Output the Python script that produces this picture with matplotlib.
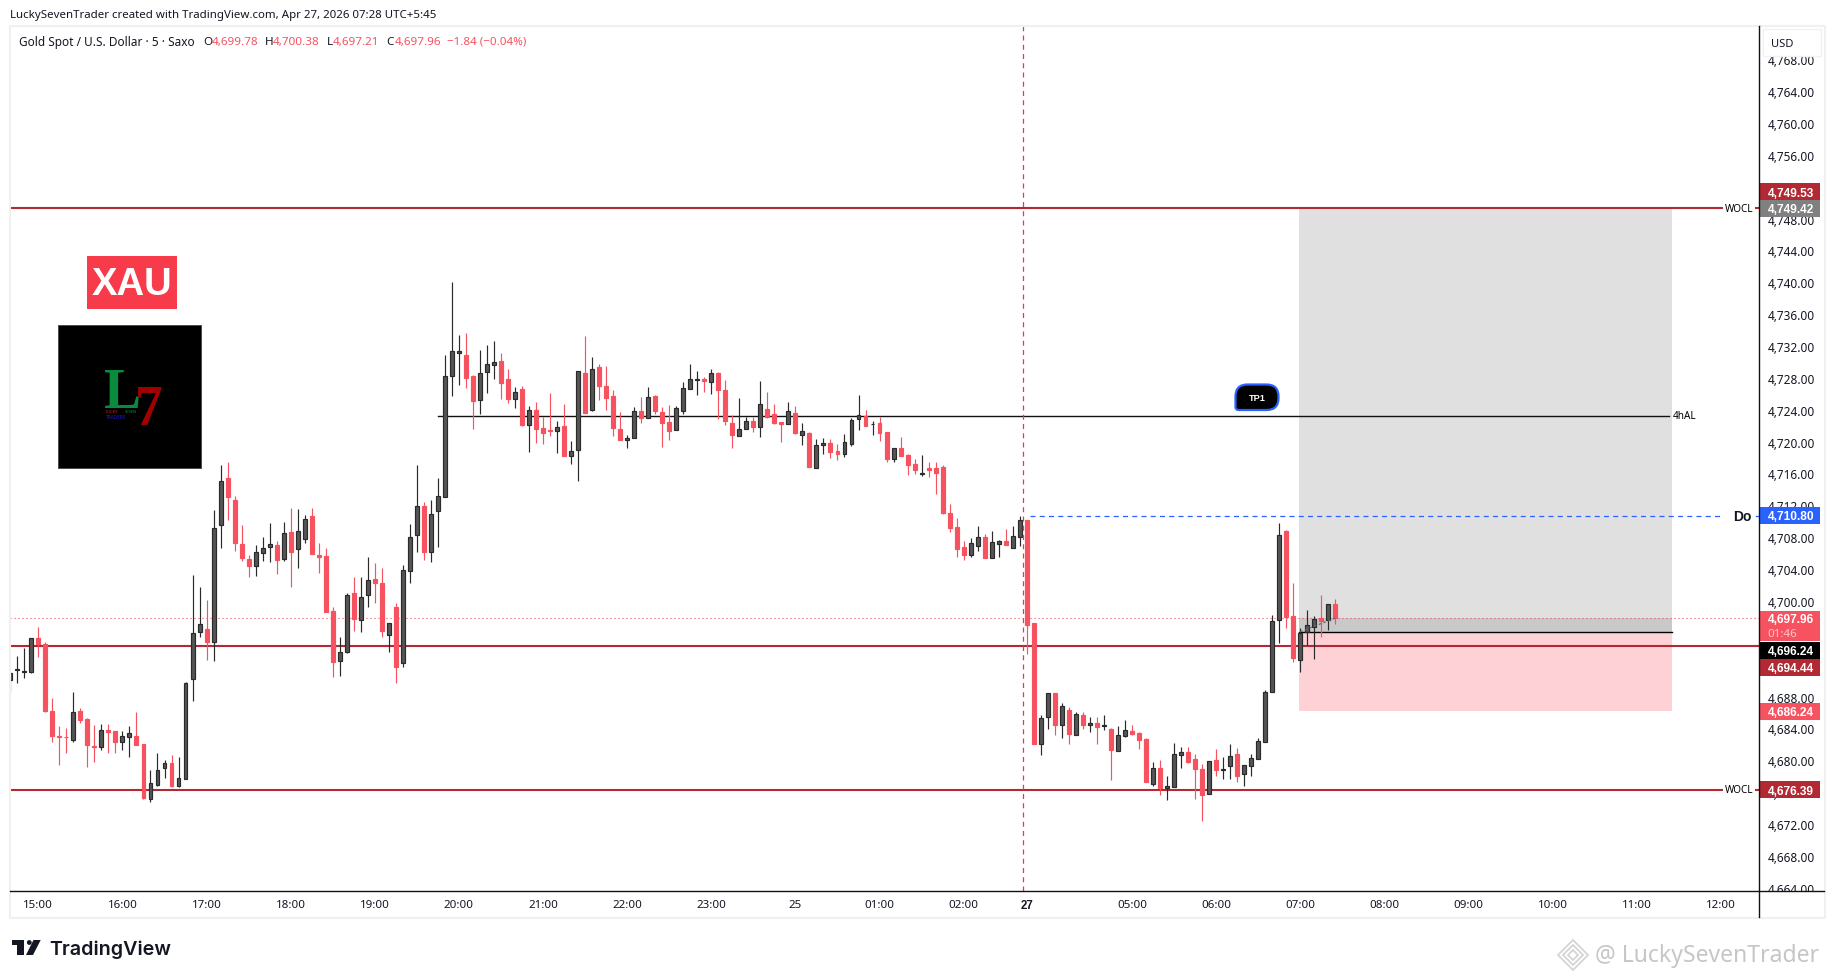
import numpy as np
import matplotlib
matplotlib.use('Agg')
import matplotlib.pyplot as plt
from matplotlib.patches import Rectangle, PathPatch, Polygon, Circle
from matplotlib.path import Path

plt.rcParams['font.family'] = ['Noto Sans', 'DejaVu Sans']

# 5 min candles, first one is 4 bars before the 15:00 bar
opens = [
    4690.24, 4691.4, 4691.2, 4691.23, 4695.49, 4694.73, 4686.3, 4683.11, 4683.07, 4682.71,
    4686.3, 4685.31, 4681.9, 4681.81, 4683.92, 4683.79, 4682.35, 4683.07, 4683.16, 4682.17,
    4675.22, 4676.97, 4679.12, 4679.8, 4676.93, 4677.73, 4690.29, 4696.25, 4696.61, 4695.0,
    4709.61, 4715.58, 4712.8, 4707.28, 4705.4, 4704.46, 4706.07, 4706.83, 4707.15, 4705.35,
    4708.76, 4706.61, 4707.87, 4710.78, 4705.89, 4705.76, 4698.85, 4692.53, 4693.74, 4701.14,
    4697.69, 4700.83, 4702.89, 4702.4, 4695.8, 4699.35, 4692.31, 4703.83, 4708.36, 4712.04,
    4706.25, 4711.36, 4713.16, 4728.31, 4731.29, 4731.0, 4728.36, 4725.39, 4728.82, 4729.78,
    4730.24, 4727.94, 4725.52, 4726.73, 4722.25, 4724.09, 4721.83, 4721.58, 4721.5, 4722.08,
    4718.36, 4719.03, 4728.74, 4724.13, 4729.49, 4727.11, 4725.85, 4721.71, 4720.37, 4720.5,
    4723.97, 4723.13, 4725.85, 4723.84, 4722.59, 4721.62, 4724.01, 4726.77, 4727.9, 4727.98,
    4727.65, 4728.74, 4726.6, 4722.46, 4720.87, 4721.75, 4722.71, 4722.0, 4724.22, 4723.59,
    4722.59, 4722.38, 4723.72, 4721.0, 4721.21, 4716.85, 4719.66, 4719.95, 4718.95, 4718.61,
    4719.83, 4722.92, 4723.34, 4722.29, 4722.46, 4721.33, 4717.98, 4719.32, 4718.44, 4717.31,
    4716.06, 4716.81, 4716.81, 4716.94, 4711.16, 4709.4, 4706.9, 4705.89, 4707.06, 4708.15,
    4705.51, 4707.31, 4707.65, 4706.81, 4708.19, 4710.28, 4697.35, 4682.2, 4685.59, 4688.56,
    4684.59, 4686.43, 4683.33, 4685.8, 4684.59, 4684.8, 4684.46, 4684.05, 4681.33, 4683.21,
    4683.79, 4683.54, 4682.79, 4677.18, 4679.15, 4676.68, 4676.81, 4680.82, 4681.16, 4680.28,
    4679.03, 4675.84, 4680.15, 4678.94, 4679.44, 4680.91, 4678.44, 4679.44, 4680.32, 4682.46,
    4688.73, 4697.69, 4708.9, 4698.23, 4692.75, 4696.18, 4696.81, 4697.98, 4697.69, 4699.78,
]
highs = [
    4691.05, 4693.25, 4694.14, 4695.44, 4696.83, 4694.95, 4687.96, 4684.41, 4684.19, 4688.67,
    4686.7, 4685.45, 4684.55, 4684.64, 4684.64, 4683.79, 4683.79, 4684.41, 4686.16, 4682.17,
    4678.9, 4681.05, 4680.15, 4680.78, 4680.51, 4689.93, 4703.38, 4701.86, 4700.24, 4711.54,
    4717.19, 4717.55, 4713.29, 4709.66, 4705.89, 4707.15, 4708.13, 4709.93, 4707.64, 4710.02,
    4711.81, 4711.68, 4710.91, 4711.81, 4707.42, 4706.79, 4699.35, 4695.58, 4701.14, 4703.11,
    4703.11, 4705.62, 4704.91, 4704.28, 4697.33, 4699.88, 4704.64, 4709.79, 4717.19, 4712.53,
    4712.8, 4715.58, 4731.0, 4740.15, 4733.5, 4733.76, 4728.49, 4731.62, 4732.25, 4732.75,
    4731.25, 4729.2, 4726.98, 4727.11, 4724.6, 4725.1, 4723.26, 4726.23, 4722.71, 4724.85,
    4720.2, 4728.95, 4733.38, 4730.75, 4729.87, 4729.66, 4726.6, 4723.84, 4720.91, 4724.43,
    4725.73, 4726.98, 4725.98, 4724.47, 4724.76, 4724.6, 4727.61, 4729.87, 4728.99, 4728.24,
    4729.2, 4728.86, 4727.86, 4723.47, 4725.6, 4723.26, 4723.26, 4727.73, 4726.35, 4724.85,
    4722.59, 4725.1, 4724.6, 4722.46, 4721.33, 4720.45, 4720.58, 4720.45, 4719.83, 4721.08,
    4723.09, 4725.98, 4724.09, 4722.67, 4723.22, 4721.33, 4719.32, 4720.7, 4718.57, 4717.94,
    4718.44, 4717.56, 4717.56, 4717.19, 4712.29, 4710.53, 4707.65, 4708.02, 4709.53, 4708.53,
    4708.9, 4707.77, 4709.15, 4709.53, 4710.79, 4710.28, 4697.35, 4685.8, 4688.52, 4688.56,
    4687.27, 4686.81, 4686.18, 4686.18, 4685.55, 4685.55, 4685.8, 4684.17, 4684.42, 4685.18,
    4684.55, 4683.67, 4682.92, 4679.9, 4680.15, 4678.15, 4682.29, 4681.79, 4681.79, 4680.91,
    4679.65, 4680.03, 4681.54, 4680.53, 4682.16, 4681.66, 4679.49, 4680.91, 4682.87, 4688.94,
    4698.36, 4709.9, 4709.02, 4702.37, 4696.72, 4698.98, 4698.23, 4700.87, 4699.69, 4700.38,
]
lows = [
    4688.67, 4689.75, 4690.38, 4691.0, 4693.02, 4686.21, 4682.4, 4679.57, 4681.05, 4682.35,
    4684.73, 4679.3, 4679.93, 4681.45, 4681.05, 4681.05, 4681.45, 4680.51, 4682.08, 4675.22,
    4674.82, 4676.93, 4677.82, 4676.7, 4676.7, 4677.73, 4687.6, 4695.62, 4692.71, 4692.62,
    4706.7, 4710.33, 4706.39, 4705.18, 4703.16, 4703.29, 4705.18, 4705.0, 4703.43, 4705.18,
    4701.81, 4704.19, 4707.33, 4705.94, 4703.56, 4698.76, 4690.51, 4690.74, 4693.52, 4696.34,
    4696.25, 4699.39, 4699.88, 4695.62, 4693.74, 4689.75, 4691.77, 4702.31, 4706.3, 4705.31,
    4704.95, 4706.92, 4713.16, 4725.89, 4727.27, 4726.9, 4721.75, 4723.63, 4726.27, 4727.98,
    4725.52, 4725.01, 4724.34, 4722.13, 4718.82, 4719.95, 4719.83, 4720.87, 4718.7, 4718.24,
    4717.32, 4715.18, 4723.72, 4723.97, 4725.35, 4724.09, 4720.83, 4720.33, 4719.32, 4720.5,
    4722.46, 4723.13, 4723.59, 4719.45, 4720.33, 4721.62, 4723.59, 4726.77, 4725.98, 4726.35,
    4726.1, 4722.96, 4722.21, 4719.32, 4720.87, 4721.75, 4721.33, 4720.7, 4723.09, 4722.34,
    4720.08, 4722.38, 4721.08, 4719.7, 4716.94, 4716.85, 4718.57, 4718.07, 4717.82, 4718.19,
    4719.58, 4721.58, 4722.13, 4720.96, 4720.2, 4717.6, 4717.6, 4718.32, 4715.93, 4716.06,
    4715.81, 4715.68, 4713.55, 4711.04, 4708.78, 4705.64, 4705.26, 4705.64, 4706.39, 4705.51,
    4705.51, 4705.64, 4707.15, 4706.81, 4707.02, 4693.46, 4682.16, 4680.78, 4684.09, 4683.29,
    4682.92, 4682.16, 4683.33, 4684.09, 4683.67, 4682.16, 4683.92, 4677.64, 4681.33, 4683.04,
    4683.29, 4681.54, 4677.39, 4676.89, 4675.76, 4675.13, 4676.81, 4679.15, 4679.78, 4675.26,
    4672.5, 4675.84, 4678.15, 4677.77, 4677.77, 4677.39, 4676.89, 4678.15, 4680.32, 4682.46,
    4688.73, 4694.84, 4696.72, 4692.46, 4691.2, 4694.59, 4692.83, 4695.6, 4696.47, 4697.21,
]
closes = [
    4691.05, 4691.54, 4691.3, 4695.44, 4694.73, 4686.3, 4683.2, 4682.98, 4682.98, 4686.12,
    4685.22, 4682.08, 4681.81, 4683.88, 4683.61, 4682.4, 4683.11, 4683.52, 4682.08, 4675.31,
    4677.24, 4678.85, 4679.75, 4676.88, 4677.87, 4689.8, 4696.07, 4697.19, 4694.91, 4709.26,
    4715.13, 4713.11, 4707.33, 4705.44, 4704.5, 4706.21, 4706.74, 4707.24, 4705.31, 4708.63,
    4706.3, 4708.85, 4710.38, 4705.94, 4705.67, 4698.76, 4692.49, 4693.65, 4700.83, 4697.78,
    4700.56, 4702.71, 4702.31, 4696.34, 4697.28, 4691.86, 4703.96, 4708.09, 4711.99, 4706.25,
    4711.0, 4713.25, 4728.31, 4731.45, 4731.46, 4728.15, 4725.22, 4728.7, 4729.83, 4730.08,
    4727.52, 4725.52, 4726.31, 4722.21, 4724.05, 4721.75, 4721.25, 4721.5, 4721.92, 4718.24,
    4718.9, 4728.95, 4723.72, 4729.2, 4727.15, 4725.6, 4721.87, 4720.33, 4720.54, 4723.93,
    4723.13, 4725.68, 4723.97, 4722.46, 4721.46, 4724.3, 4726.81, 4727.94, 4727.94, 4727.73,
    4728.7, 4726.6, 4722.71, 4720.96, 4721.67, 4722.67, 4721.96, 4724.8, 4723.21, 4722.46,
    4722.34, 4723.93, 4721.21, 4721.42, 4716.94, 4719.66, 4719.91, 4718.82, 4718.57, 4720.03,
    4722.8, 4723.47, 4722.13, 4722.34, 4721.25, 4717.98, 4719.32, 4718.32, 4717.19, 4716.56,
    4716.14, 4716.56, 4716.18, 4711.16, 4709.28, 4706.64, 4705.89, 4707.35, 4708.11, 4705.51,
    4707.48, 4707.61, 4707.15, 4708.23, 4710.24, 4697.1, 4682.16, 4685.38, 4688.52, 4684.59,
    4686.89, 4683.46, 4685.89, 4684.59, 4684.76, 4684.3, 4684.55, 4681.41, 4683.25, 4683.88,
    4683.42, 4682.67, 4677.39, 4679.11, 4676.64, 4676.85, 4680.87, 4681.12, 4679.9, 4679.03,
    4675.76, 4679.99, 4678.9, 4679.03, 4680.62, 4678.15, 4679.49, 4680.36, 4682.5, 4688.69,
    4697.56, 4708.36, 4698.1, 4692.96, 4696.05, 4697.06, 4697.81, 4697.64, 4699.69, 4697.96,
]
first_bar = -4

time_ticks = [0, 12, 24, 36, 48, 60, 72, 84, 96, 108, 120, 132, 141, 156, 168, 180, 192, 204, 216, 228, 240]
time_labels = ['15:00', '16:00', '17:00', '18:00', '19:00', '20:00', '21:00', '22:00', '23:00', '25',
               '01:00', '02:00', '27', '05:00', '06:00', '07:00', '08:00', '09:00', '10:00', '11:00', '12:00']
price_ticks = list(range(4664, 4772, 4))

wocl_top = 4749.42
wocl_bottom = 4676.39
mid_level = 4694.44
al_level = 4723.3
do_level = 4710.80
last_price = 4697.96
entry_price = 4696.24
stop_price = 4686.24

# price scale tags: text, where the tag sits, colour
tag_texts = ['4,749.53', '4,749.42', '4,710.80', '4,696.24', '4,694.44', '4,686.24', '4,676.39']
tag_prices = [4751.45, 4749.42, 4710.80, 4693.89, 4691.78, 4686.24, 4676.39]
tag_colors = ['#b22833', '#808080', '#2962ff', '#000000', '#b22833', '#f7525f', '#b22833']

RED = '#f7525f'
DARK = '#555555'
DARK_EDGE = '#2a2a2a'
LINE_RED = '#b22833'
TEXT = '#131722'
BOLD = 'Liberation Sans'

W, H = 1835, 979
fig = plt.figure(figsize=(W / 100, H / 100), dpi=100, facecolor='white')


def px_axes(x0, y0, x1, y1):
    return fig.add_axes([x0 / W, 1 - y1 / H, (x1 - x0) / W, (y1 - y0) / H])


ax = px_axes(10, 27, 1759.3, 891.5)
ax.set_xlim(-4.04, 245.5)
ax.set_ylim(4663.76, 4772.28)
for s in ax.spines.values():
    s.set_visible(False)
ax.set_yticks([])
ax.set_xticks(time_ticks)
ax.set_xticklabels(time_labels, fontsize=8.3, color=TEXT)
ax.tick_params(axis='x', length=0, pad=6)
ax.get_xticklabels()[12].set_fontweight('bold')
ax.get_xticklabels()[12].set_fontfamily(BOLD)

# position tool
ax.add_patch(Rectangle((179.9, entry_price), 53.2, wocl_top - entry_price, fc='#e0e0e0', ec='none', zorder=0.5))
ax.add_patch(Rectangle((179.9, stop_price), 53.2, entry_price - stop_price, fc='#fdd1d5', ec='none', zorder=0.5))
ax.add_patch(Rectangle((179.9, entry_price), 53.2, last_price - entry_price, fc='#c9c9c9', ec='none', zorder=0.6))
ax.plot([179.9, 233.1], [entry_price, entry_price], color='black', lw=1, zorder=1)

# levels
ax.plot([-4.04, 240.2], [wocl_top, wocl_top], color=LINE_RED, lw=1.5, zorder=1)
ax.plot([-4.04, 240.2], [wocl_bottom, wocl_bottom], color=LINE_RED, lw=1.5, zorder=1)
ax.plot([245, 245.5], [wocl_top, wocl_top], color=LINE_RED, lw=1.5, zorder=1)
ax.plot([245, 245.5], [wocl_bottom, wocl_bottom], color=LINE_RED, lw=1.5, zorder=1)
ax.axhline(mid_level, color=LINE_RED, lw=1.5, zorder=1)
ax.plot([57, 232.6], [al_level, al_level], color='#111111', lw=1, zorder=1)
ax.plot([141.5, 240.3], [do_level, do_level], color='#2962ff', lw=0.9, ls=(0, (4, 3.4)), zorder=1)
ax.plot([245, 245.4], [do_level, do_level], color='#2962ff', lw=0.9, zorder=1)
ax.axhline(last_price, color=RED, lw=0.8, ls=(0, (1, 2.6)), zorder=1)

# candles
bars = np.arange(len(opens)) + first_bar
o = np.array(opens)
h = np.array(highs)
l = np.array(lows)
c = np.array(closes)
up = c >= o
ax.vlines(bars, l, h, colors=[DARK_EDGE if u else RED for u in up], lw=0.85, zorder=2)
ax.bar(bars[up], (c - o)[up], bottom=o[up], width=0.56, color=DARK, edgecolor=DARK_EDGE, lw=0.85, zorder=3)
ax.bar(bars[~up], (c - o)[~up], bottom=o[~up], width=0.56, color=RED, edgecolor=RED, lw=0.85, zorder=3)

ax.plot([180, 185], [entry_price, last_price], color='#666666', lw=0.9, ls=(0, (2, 2)), zorder=4)
ax.axvline(140.5, color='#e8394a', lw=0.9, ls=(0, (4, 3.4)), zorder=4)

# price scale
axr = px_axes(1759.3, 27, 1825, 891.5)
axr.set_xlim(0, 65.7)
axr.set_ylim(ax.get_ylim())
axr.axis('off')
for p in price_ticks:
    axr.text(31.7, p - 0.08, f'{p:,}.00', fontsize=8.5, color=TEXT, ha='center', va='center', clip_on=True)

tag_h = 2.134
for txt, p, col in zip(tag_texts, tag_prices, tag_colors):
    axr.add_patch(Rectangle((0.7, p - tag_h / 2), 60, tag_h, fc=col, ec='none', zorder=5))
    axr.text(31.7, p - 0.08, txt, fontsize=8.6, color='white', family=BOLD, weight='bold',
             ha='center', va='center', zorder=6)
axr.add_patch(Rectangle((0.7, 4695.06), 60, 3.81, fc=RED, ec='none', zorder=5))
axr.text(31.7, last_price - 0.08, '4,697.96', fontsize=8.6, color='white', family=BOLD, weight='bold',
         ha='center', va='center', zorder=6)
axr.text(8.4, 4696.05, '01:46', fontsize=8.3, color='#fcc6cb', ha='left', va='center', zorder=6)

# everything else is page furniture, drawn in picture pixels
ov = fig.add_axes([0, 0, 1, 1])
ov.set_xlim(0, W)
ov.set_ylim(H, 0)
ov.axis('off')
ov.patch.set_alpha(0)

ov.add_patch(Rectangle((9.5, 26.5), 1815.5, 892, fc='none', ec='#f0f0f0', lw=1.5))
ov.plot([1759.3, 1759.3], [27, 918], color='#111111', lw=1)
ov.plot([10, 1824], [891.5, 891.5], color='#111111', lw=1)
ov.add_patch(Rectangle((1763, 30), 58, 27, fc='white', ec='#f1f1f1', lw=1, zorder=4))
ov.text(1782, 44.5, 'USD', fontsize=8, color=TEXT, ha='center', va='center', zorder=5)

# header
ov.text(9.5, 15.8, 'LuckySevenTrader created with TradingView.com, Apr 27, 2026 07:28 UTC+5:45',
        fontsize=8.25, color=TEXT, va='center')
ov.text(18.5, 42.3, 'Gold Spot / U.S. Dollar · 5 · Saxo', fontsize=8.5, color=TEXT, va='center')
ohlc_letters = ['O', 'H', 'L', 'C']
ohlc_letter_x = [203, 264.8, 327, 386.6]
ohlc_values = ['4,699.78', '4,700.38', '4,697.21', '4,697.96']
ohlc_value_x = [211.5, 272.7, 333, 394.5]
for t, x in zip(ohlc_letters, ohlc_letter_x):
    ov.text(x, 42.3, t, fontsize=8.4, color=TEXT, va='center')
for t, x in zip(ohlc_values, ohlc_value_x):
    ov.text(x, 42.3, t, fontsize=8.4, color=RED, va='center')
ov.text(447.4, 42.3, '−1.84 (−0.04%)', fontsize=8.3, color=RED, va='center')

# labels on the lines
ov.text(1739, 209, 'WOCL', fontsize=7.2, color='black', ha='center', va='center')
ov.text(1739, 791, 'WOCL', fontsize=7.2, color='black', ha='center', va='center')
ov.text(1684.5, 416.5, '4hAL', fontsize=7.2, color='black', ha='center', va='center')
ov.text(1742.5, 517, 'Do', fontsize=10, color=TEXT, family=BOLD, weight='bold', ha='center', va='center')

# TP1 badge
x0, x1, y0, y1, r = 1235.5, 1278.5, 385.5, 411, 12
verts = [(x0 + r, y0), (x1 - r, y0), (x1, y0), (x1, y0 + r), (x1, y1 - r), (x1, y1), (x1 - r, y1),
         (x0 + 3, y1), (x0, y1), (x0, y1 - 3), (x0, y0 + r), (x0, y0), (x0 + r, y0), (x0 + r, y0)]
codes = [Path.MOVETO, Path.LINETO, Path.CURVE3, Path.CURVE3, Path.LINETO, Path.CURVE3, Path.CURVE3,
         Path.LINETO, Path.CURVE3, Path.CURVE3, Path.LINETO, Path.CURVE3, Path.CURVE3, Path.CLOSEPOLY]
ov.add_patch(PathPatch(Path(verts, codes), fc='black', ec='#2962ff', lw=1.6))
ov.text(1257, 398.5, 'TP1', fontsize=6.6, color='white', family=BOLD, weight='bold', ha='center', va='center')

# XAU sticker
ov.add_patch(Rectangle((87, 256.5), 90, 53, fc='#f73b4b', ec='none'))
ov.text(132, 285.5, 'XAU', fontsize=27.5, color='white', family=BOLD, weight='bold', ha='center', va='center')

# L7 logo
ov.add_patch(Rectangle((57.7, 325.5), 143.3, 143.5, fc='black', ec='#444444', lw=0.6))
ov.text(103.5, 407.7, 'L', fontsize=40, color='#0a8a3c', family='Liberation Serif', weight='bold', va='baseline')
ov.text(135, 425, '7', fontsize=40, color='#a00000', family='Liberation Serif', weight='bold', va='baseline')
ov.text(105.5, 412.3, 'LUCKY', fontsize=2.9, color='#d8232a', weight='bold', va='center')
ov.text(125, 412.3, 'SEVEN', fontsize=2.9, color='#0a8a3c', weight='bold', va='center')
ov.text(105.5, 417.7, 'TRADERS', fontsize=3.4, color='#1a1ae0', weight='bold', va='center')

# TradingView mark
ov.add_patch(Polygon([(11.5, 941), (24, 941), (24, 956), (17.2, 956), (17.2, 946), (11.5, 946)], fc='#131722', ec='none'))
ov.add_patch(Circle((29.3, 943.5), 2.4, fc='#131722', ec='none'))
ov.add_patch(Polygon([(33.5, 941), (40.7, 941), (33, 956), (26, 956)], fc='#131722', ec='none'))
ov.text(49.5, 949.5, 'TradingView', fontsize=14.2, color='#131722', family='Inter', weight='semibold', va='center')

# watermark
for half in [15, 10, 5]:
    ov.add_patch(Polygon([(1573, 956 - half), (1573 + half, 956), (1573, 956 + half), (1573 - half, 956)],
                         fc='none', ec='#d4d4d4', lw=1.3))
ov.text(1595, 956.5, '@ LuckySevenTrader', fontsize=16.5, color='#c6c6c6', va='center')

fig.savefig('out.png', dpi=100, facecolor='white')
